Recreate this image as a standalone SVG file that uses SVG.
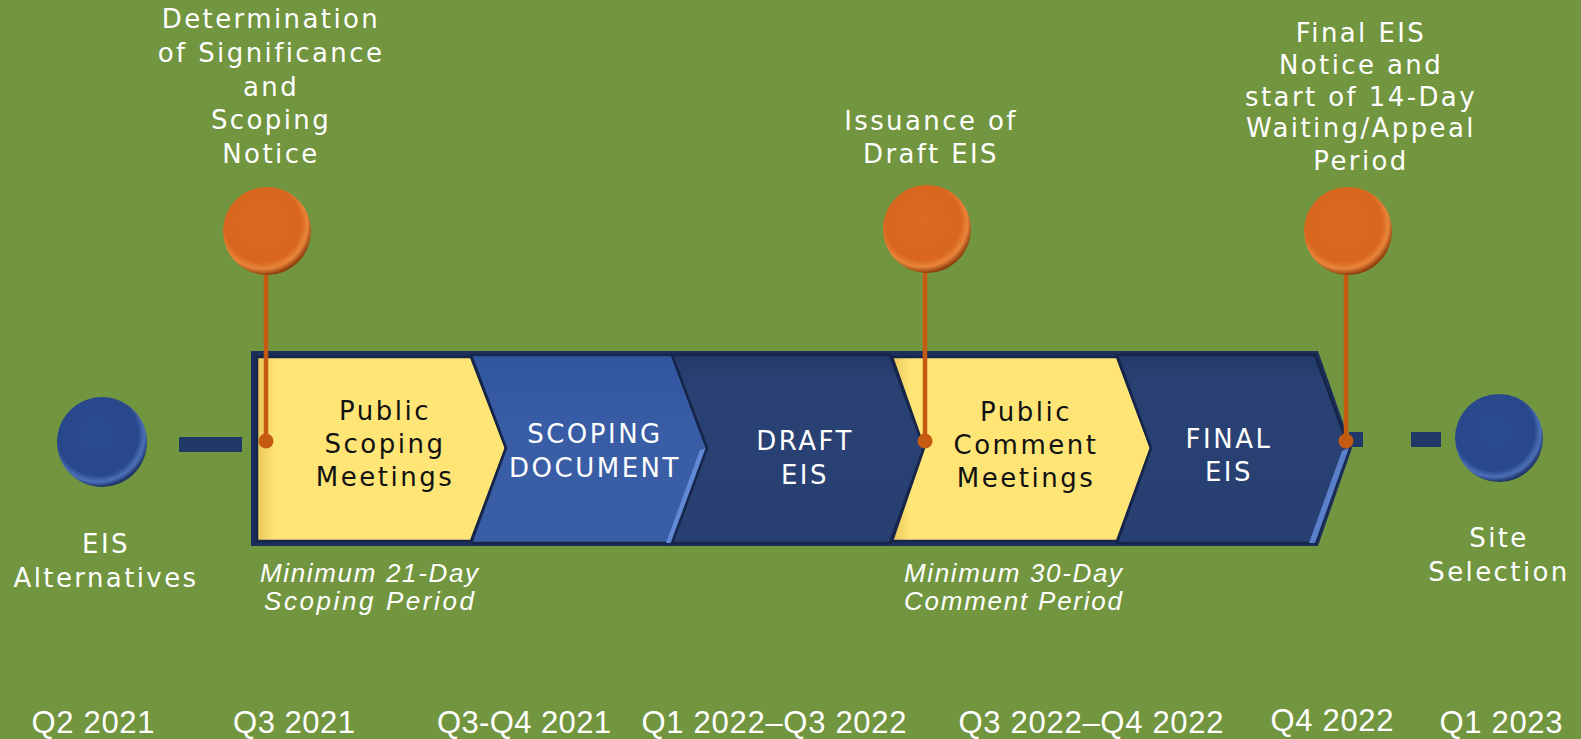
<svg xmlns="http://www.w3.org/2000/svg" width="1581" height="739" viewBox="0 0 1581 739">
<style>
.lbl{font-family:"DejaVu Sans",sans-serif;font-size:26px;fill:#fff;letter-spacing:2.4px;text-anchor:middle}
.inB{font-family:"DejaVu Sans",sans-serif;font-size:26px;fill:#111;letter-spacing:2.5px;text-anchor:middle}
.inW{font-family:"DejaVu Sans",sans-serif;font-size:26px;fill:#fff;letter-spacing:2.5px;text-anchor:middle}
.ital{font-family:"Liberation Sans",sans-serif;font-style:italic;font-size:26px;fill:#fff;text-anchor:middle}
.date{font-family:"Liberation Sans",sans-serif;font-size:31px;fill:#fff;text-anchor:middle}
.pinline{stroke:#C55A11;stroke-width:4.5}
.pindot{fill:#C55A11}
.dash{fill:#1F3868}
.gap{stroke:#16264A;stroke-width:2.5;stroke-linejoin:round}
</style>
<defs>
<radialGradient id="gBlue" cx="45%" cy="42%" r="58%">
<stop offset="0" stop-color="#2C4C90"/>
<stop offset="0.78" stop-color="#29488B"/>
<stop offset="0.9" stop-color="#4C70B8"/>
<stop offset="1" stop-color="#1C3366"/>
</radialGradient>
<radialGradient id="gOrange" cx="45%" cy="42%" r="58%">
<stop offset="0" stop-color="#DD6A22"/>
<stop offset="0.75" stop-color="#D8661F"/>
<stop offset="0.88" stop-color="#E9853A"/>
<stop offset="1" stop-color="#8F3E0E"/>
</radialGradient>
<linearGradient id="gYel" x1="0" y1="0" x2="1" y2="0">
<stop offset="0" stop-color="#E9C65A"/>
<stop offset="0.07" stop-color="#FFE575"/>
<stop offset="1" stop-color="#FFE575"/>
</linearGradient>
<linearGradient id="gDoc" x1="0" y1="0" x2="0" y2="1">
<stop offset="0" stop-color="#3156A0"/>
<stop offset="0.5" stop-color="#3A5EA6"/>
<stop offset="1" stop-color="#3A5EA6"/>
</linearGradient>
<linearGradient id="gDark" x1="0" y1="0" x2="0" y2="1">
<stop offset="0" stop-color="#22396A"/>
<stop offset="0.15" stop-color="#2A4273"/>
<stop offset="1" stop-color="#283F71"/>
</linearGradient>
</defs>
<rect x="0" y="0" width="1581" height="739" fill="#72953F"/>

<g id="connectors">
<rect class="dash" x="179" y="437" width="63" height="15"/>
<rect class="dash" x="1349" y="432" width="14" height="15"/>
<rect class="dash" x="1411" y="432" width="30" height="15"/>
</g>

<g id="bar">
<polygon points="251,351 1318,351 1352,448 1318,546 251,546" fill="#1C2F5A"/>
<g id="scoping-meetings">
<polygon points="257,357 471,357 506,448 471,541 257,541" fill="url(#gYel)" class="gap"/>
<text class="inB" x="385" y="420">Public</text>
<text class="inB" x="385" y="453">Scoping</text>
<text class="inB" x="385" y="486">Meetings</text>
</g>
<g id="scoping-document">
<polygon points="471,355 672,355 707,448 672,543 471,543 506,448" fill="url(#gDoc)" class="gap"/>
<polygon points="707,448 672,543 666,543 700,450" fill="#6289D6"/>
<text class="inW" x="595" y="443">SCOPING</text>
<text class="inW" x="595" y="477">DOCUMENT</text>
</g>
<g id="draft-eis">
<polygon points="672,355 890,355 924,448 890,543 672,543 707,448" fill="url(#gDark)" class="gap"/>
<text class="inW" x="805" y="450">DRAFT</text>
<text class="inW" x="805" y="484">EIS</text>
</g>
<g id="comment-meetings">
<polygon points="892,357 1117,357 1151,448 1117,541 892,541 924,448" fill="url(#gYel)" class="gap"/>
<text class="inB" x="1026" y="421">Public</text>
<text class="inB" x="1026" y="454">Comment</text>
<text class="inB" x="1026" y="487">Meetings</text>
</g>
<g id="final-eis">
<polygon points="1117,355 1315,355 1349,448 1315,543 1117,543 1151,448" fill="url(#gDark)" class="gap"/>
<polygon points="1349,448 1315,543 1309,543 1342,451" fill="#5A80CC"/>
<text class="inW" x="1229" y="448">FINAL</text>
<text class="inW" x="1229" y="481">EIS</text>
</g>
</g>

<g id="eis-alternatives">
<circle cx="102" cy="442" r="45" fill="url(#gBlue)"/>
<text class="lbl" x="106" y="553">EIS</text>
<text class="lbl" x="106" y="587">Alternatives</text>
</g>

<g id="site-selection">
<circle cx="1499" cy="438" r="44" fill="url(#gBlue)"/>
<text class="lbl" x="1499" y="547">Site</text>
<text class="lbl" x="1499" y="581">Selection</text>
</g>

<g id="pin-scoping-notice">
<line class="pinline" x1="266" y1="270" x2="266" y2="441"/>
<circle class="pindot" cx="266" cy="441" r="7.5"/>
<circle cx="267" cy="231" r="44" fill="url(#gOrange)"/>
<text class="lbl" x="271" y="28">Determination</text>
<text class="lbl" x="271" y="62">of Significance</text>
<text class="lbl" x="271" y="96">and</text>
<text class="lbl" x="271" y="129">Scoping</text>
<text class="lbl" x="271" y="163">Notice</text>
</g>

<g id="pin-draft-eis">
<line class="pinline" x1="925" y1="270" x2="925" y2="441"/>
<circle class="pindot" cx="925" cy="441" r="7.5"/>
<circle cx="927" cy="229" r="44" fill="url(#gOrange)"/>
<text class="lbl" x="931" y="130">Issuance of</text>
<text class="lbl" x="931" y="163">Draft EIS</text>
</g>

<g id="pin-final-eis">
<line class="pinline" x1="1346" y1="270" x2="1346" y2="441"/>
<circle class="pindot" cx="1346" cy="441" r="7.5"/>
<circle cx="1348" cy="231" r="44" fill="url(#gOrange)"/>
<text class="lbl" x="1361" y="42">Final EIS</text>
<text class="lbl" x="1361" y="74">Notice and</text>
<text class="lbl" x="1361" y="106">start of 14-Day</text>
<text class="lbl" x="1361" y="137">Waiting/Appeal</text>
<text class="lbl" x="1361" y="170">Period</text>
</g>

<g id="periods">
<text class="ital" x="369" y="582" textLength="218" lengthAdjust="spacing">Minimum 21-Day</text>
<text class="ital" x="369" y="610" textLength="210" lengthAdjust="spacing">Scoping Period</text>
<text class="ital" x="1013" y="582" textLength="218" lengthAdjust="spacing">Minimum 30-Day</text>
<text class="ital" x="1013" y="610" textLength="218" lengthAdjust="spacing">Comment Period</text>
</g>

<g id="dates">
<text class="date" x="93" y="733" textLength="123" lengthAdjust="spacing">Q2 2021</text>
<text class="date" x="294" y="733" textLength="122" lengthAdjust="spacing">Q3 2021</text>
<text class="date" x="524" y="733" textLength="174" lengthAdjust="spacing">Q3-Q4 2021</text>
<text class="date" x="774" y="733" textLength="265" lengthAdjust="spacing">Q1 2022–Q3 2022</text>
<text class="date" x="1091" y="733" textLength="265" lengthAdjust="spacing">Q3 2022–Q4 2022</text>
<text class="date" x="1332" y="731" textLength="123" lengthAdjust="spacing">Q4 2022</text>
<text class="date" x="1501" y="733" textLength="123" lengthAdjust="spacing">Q1 2023</text>
</g>
</svg>
